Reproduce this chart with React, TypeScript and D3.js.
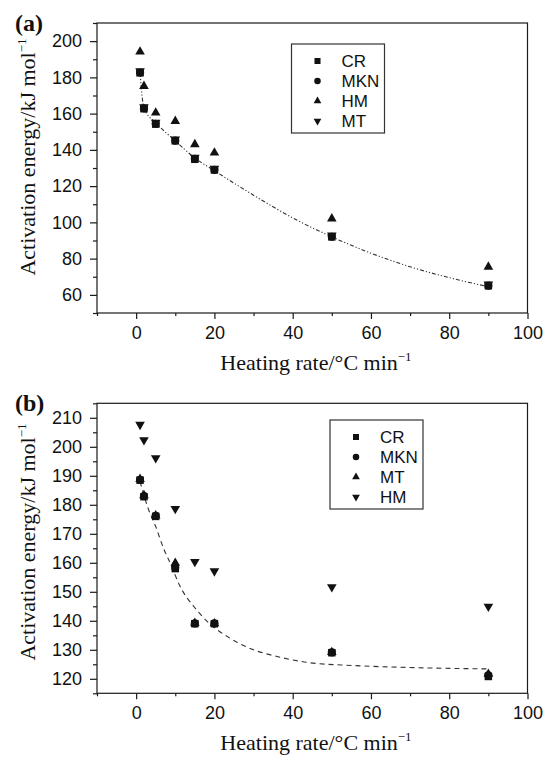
import React, { useEffect, useRef } from 'react';
import * as d3 from 'd3';

// heating rates (°C/min) shared by both panels
const rates = [1, 2, 5, 10, 15, 20, 50, 90];

// panel (a)
const aCR = [182.5, 162.7, 154.2, 145, 134.8, 128.9, 92, 65];
const aMKN = [182.7, 162.9, 154.4, 145.1, 135, 129, 92.1, 65.1];
const aHM = [194.7, 175.7, 161, 156.4, 143.6, 139, 102.6, 76];
const aMT = [183, 163.1, 154.6, 145.3, 135.2, 129.2, 92.3, 65.3];
const aFitX = [1, 2, 5, 10, 15, 20, 30, 40, 50, 60, 70, 80, 90];
const aFitY = [182.5, 163, 155, 145, 135.5, 128.5, 115, 102.5, 92, 83, 75.5, 69.5, 64.5];

// panel (b)
const bCR = [188.5, 182.8, 176, 158, 139, 139, 129, 120.8];
const bMKN = [188.6, 183, 176.2, 158.3, 139.1, 139.1, 129.1, 121.2];
const bMT = [189.2, 183.6, 176.6, 160.3, 139.6, 139.4, 129.5, 122];
const bHM = [207.3, 202, 195.8, 178.3, 160, 156.8, 151.3, 144.6];
const bFitX = [1, 3, 5, 7, 9, 11, 15, 18, 24, 30, 36, 44, 55, 67, 90];
const bFitY = [188, 179, 172.5, 165, 159, 152.5, 144.5, 140, 134, 130, 127.7, 125.6, 124.6, 124, 123.4];

const xMajor = [0, 20, 40, 60, 80, 100];
const xMinor = [-10, 10, 30, 50, 70, 90];
const aYMajor = [60, 80, 100, 120, 140, 160, 180, 200];
const aYMinor = [50, 70, 90, 110, 130, 150, 170, 190, 210];
const bYMajor = [120, 130, 140, 150, 160, 170, 180, 190, 200, 210];
const bYMinor = [115, 125, 135, 145, 155, 165, 175, 185, 195, 205, 215];

const SANS = '"Liberation Sans", Arial, Helvetica, sans-serif';
const SERIF = '"Liberation Serif", "Times New Roman", Times, serif';

const shapes: any = {
  square: { type: d3.symbolSquare, size: 56, rot: 0 },
  circle: { type: d3.symbolCircle, size: 52, rot: 0 },
  up: { type: d3.symbolTriangle, size: 40, rot: 0 },
  down: { type: d3.symbolTriangle, size: 40, rot: 180 },
};

const Panel = (props: any) => {
  const ref = useRef<SVGGElement>(null);

  useEffect(() => {
    const g = d3.select(ref.current);
    g.selectAll('*').remove();

    const x = d3.scaleLinear().domain([-10, 100]).range([97, 527.5]);
    const y = d3.scaleLinear().domain(props.yDomain).range([props.bottom, props.top]);

    // frame
    g.append('rect')
      .attr('x', x(-10)).attr('y', props.top)
      .attr('width', x(100) - x(-10)).attr('height', props.bottom - props.top)
      .attr('fill', 'none').attr('stroke', '#1a1a1a').attr('stroke-width', 1.2);

    const xAx = g.append('g').attr('transform', `translate(0,${props.bottom})`)
      .call(d3.axisBottom(x).tickValues(xMajor).tickSize(6).tickPadding(7).tickFormat(d3.format('d')));
    g.append('g').attr('transform', `translate(0,${props.bottom})`)
      .call(d3.axisBottom(x).tickValues(xMinor).tickSize(3).tickFormat(() => ''));
    const yAx = g.append('g').attr('transform', `translate(${x(-10)},0)`)
      .call(d3.axisLeft(y).tickValues(props.yMajor).tickSize(7).tickPadding(8).tickFormat(d3.format('d')));
    g.append('g').attr('transform', `translate(${x(-10)},0)`)
      .call(d3.axisLeft(y).tickValues(props.yMinor).tickSize(4).tickFormat(() => ''));

    g.selectAll('.domain').remove();
    g.selectAll('.tick line').attr('stroke', '#1a1a1a').attr('stroke-width', 1.2);
    [xAx, yAx].forEach((a) =>
      a.selectAll('text').attr('font-family', SANS).attr('font-size', 18).attr('fill', '#111')
    );

    // fitted curve
    const line = d3.line<number>()
      .x((d, i) => x(props.fitX[i]))
      .y((d) => y(d))
      .curve(d3.curveMonotoneX);
    g.append('path')
      .attr('d', line(props.fitY))
      .attr('fill', 'none')
      .attr('stroke', '#333')
      .attr('stroke-width', 1.1)
      .attr('stroke-dasharray', props.dash);

    // markers
    props.series.forEach((s: any) => {
      const sh = shapes[s.shape];
      const sym = d3.symbol().type(sh.type).size(sh.size);
      g.append('g').selectAll('path').data(s.values).join('path')
        .attr('d', sym as any)
        .attr('transform', (d: any, i: number) => {
          const off = sh.type === d3.symbolTriangle ? (sh.rot ? -1 : 1) : 0;
          return `translate(${x(rates[i])},${y(d) + off}) rotate(${sh.rot})`;
        })
        .attr('fill', '#111');
    });

    // legend
    const lg = g.append('g');
    lg.append('rect')
      .attr('x', props.legend.x).attr('y', props.legend.y)
      .attr('width', props.legend.w).attr('height', props.legend.h)
      .attr('fill', 'white').attr('stroke', '#333').attr('stroke-width', 1.2);
    props.series.forEach((s: any, i: number) => {
      const sh = shapes[s.shape];
      const cy = props.legend.y + 17 + i * 20;
      const sym = d3.symbol().type(sh.type).size(sh.size * 0.65);
      lg.append('path')
        .attr('d', sym() as string)
        .attr('transform', `translate(${props.legend.x + 26},${cy}) rotate(${sh.rot})`)
        .attr('fill', '#111');
      lg.append('text')
        .attr('x', props.legend.x + 50).attr('y', cy + 6)
        .attr('font-family', SANS).attr('font-size', 17).attr('fill', '#111')
        .text(s.name);
    });
  }, [props]);

  const midX = 316;
  return (
    <g>
      <g ref={ref} />
      <text x={15} y={props.top + 8} fontFamily={SERIF} fontWeight="bold" fontSize={24} fill="#111">
        {props.tag}
      </text>
      <text x={midX} y={props.bottom + 57} textAnchor="middle" fontFamily={SERIF} fontSize={22} fill="#111">
        Heating rate/°C min<tspan dy={-9} fontSize={13}>−1</tspan>
      </text>
      <text
        transform={`translate(35,${props.yTitleMid}) rotate(-90)`}
        textAnchor="middle" fontFamily={SERIF} fontSize={22} fill="#111"
      >
        Activation energy/kJ mol<tspan dy={-9} fontSize={13}>−1</tspan>
      </text>
    </g>
  );
};

export default function App() {
  const panelA = {
    tag: '(a)', top: 23, bottom: 313, yDomain: [50, 210], yMajor: aYMajor, yMinor: aYMinor,
    fitX: aFitX, fitY: aFitY, dash: '4 2 1.2 2 1.2 2', yTitleMid: 157,
    legend: { x: 291.5, y: 44, w: 93, h: 89 },
    series: [
      { name: 'CR', shape: 'square', values: aCR },
      { name: 'MKN', shape: 'circle', values: aMKN },
      { name: 'HM', shape: 'up', values: aHM },
      { name: 'MT', shape: 'down', values: aMT },
    ],
  };
  const panelB = {
    tag: '(b)', top: 403.3, bottom: 693.3, yDomain: [115, 215], yMajor: bYMajor, yMinor: bYMinor,
    fitX: bFitX, fitY: bFitY, dash: '5 4', yTitleMid: 542,
    legend: { x: 330, y: 420, w: 93, h: 89 },
    series: [
      { name: 'CR', shape: 'square', values: bCR },
      { name: 'MKN', shape: 'circle', values: bMKN },
      { name: 'MT', shape: 'up', values: bMT },
      { name: 'HM', shape: 'down', values: bHM },
    ],
  };
  return (
    <svg width={547} height={758} style={{ position: 'absolute', left: 0, top: 0, background: 'white' }}>
      <Panel {...panelA} />
      <Panel {...panelB} />
    </svg>
  );
}
